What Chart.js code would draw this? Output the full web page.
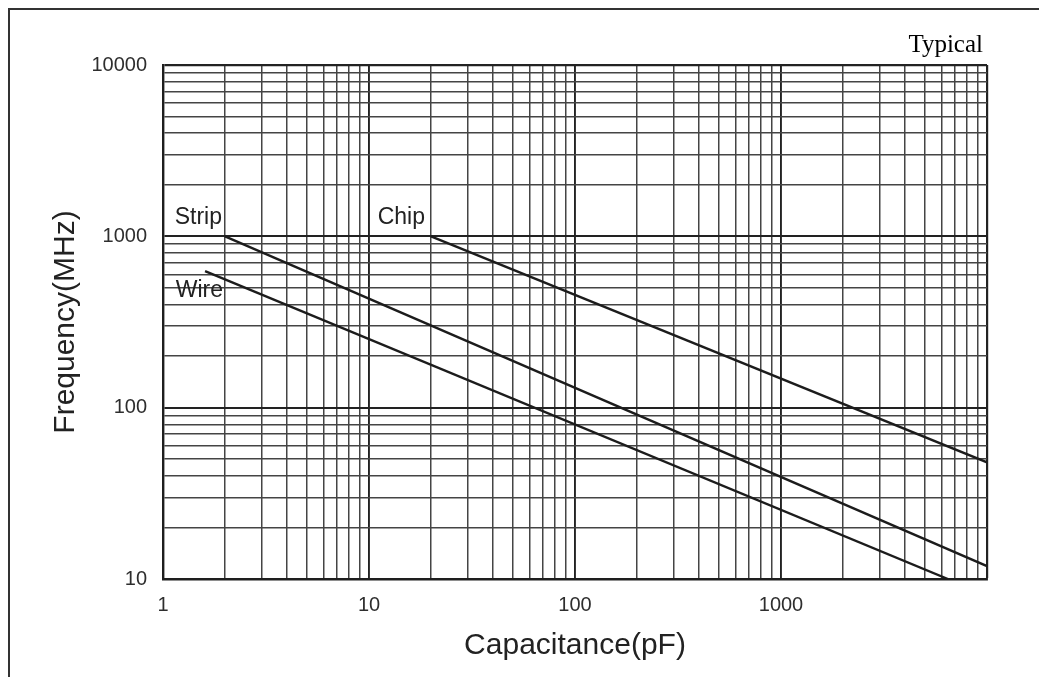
<!DOCTYPE html>
<html><head><meta charset="utf-8">
<script src="https://cdn.jsdelivr.net/npm/chart.js@4"></script>
<style>html,body{margin:0;padding:0;background:#fff;} canvas{display:block;}</style>
</head><body>
<canvas id="c" width="1039" height="677"></canvas>
<script>
// ---- data ----
const xMajors = [1, 10, 100, 1000, 10000];
const xLabels = ['1', '10', '100', '1000', ''];
const yMajors = [10, 100, 1000, 10000];
const yLabels = ['10', '100', '1000', '10000'];
const minorSteps = [2, 3, 4, 5, 6, 7, 8, 9];
const seriesNames = ['Strip', 'Wire', 'Chip'];
const stripC = [2, 10000];
const stripF = [1000, 11.9];
const wireC = [1.6, 6460];
const wireF = [627, 10];
const chipC = [20, 10000];
const chipF = [1000, 48];
const cornerNote = 'Typical';
const xTitle = 'Capacitance(pF)';
const yTitle = 'Frequency(MHz)';

// ---- helpers ----
function buildTicks(majors) {
  const out = [];
  majors.forEach((m, i) => {
    out.push({ value: m });
    if (i < majors.length - 1) minorSteps.forEach(s => out.push({ value: m * s }));
  });
  return out;
}
function pts(xs, ys) { return xs.map((x, i) => ({ x: x, y: ys[i] })); }

const SANS = "'Liberation Sans', Arial, Helvetica, sans-serif";
const SERIF = "'Liberation Serif', 'Times New Roman', serif";
const LINE = '#1c1c1c';

function gridColor(majors) {
  return ctx => (ctx.tick && majors.includes(ctx.tick.value)) ? '#222' : '#444';
}
function gridWidth(majors, edge) {
  return ctx => {
    if (!ctx.tick) return 1.5;
    if (ctx.tick.value === edge) return 2.2;
    return majors.includes(ctx.tick.value) ? 1.9 : 1.5;
  };
}

const labelOffsets = [
  { dx: -3, dy: -12 },
  { dx: 18, dy: 26 },
  { dx: -6, dy: -12 }
];

const decorPlugin = {
  id: 'decor',
  afterDraw(chart) {
    const ctx = chart.ctx;
    ctx.save();
    // outer frame (top and left)
    ctx.strokeStyle = '#333';
    ctx.lineWidth = 2;
    ctx.beginPath();
    ctx.moveTo(1039, 9);
    ctx.lineTo(9, 9);
    ctx.lineTo(9, 677);
    ctx.stroke();
    // corner note
    ctx.fillStyle = '#000';
    ctx.font = '25px ' + SERIF;
    ctx.textAlign = 'right';
    ctx.textBaseline = 'alphabetic';
    ctx.fillText(cornerNote, 983, 52);
    // series labels
    ctx.fillStyle = '#222';
    ctx.font = '23px ' + SANS;
    chart.data.datasets.forEach((ds, i) => {
      const p = chart.getDatasetMeta(i).data[0];
      const o = labelOffsets[i];
      ctx.textAlign = 'right';
      ctx.fillText(seriesNames[i], p.x + o.dx, p.y + o.dy);
    });
    ctx.restore();
  }
};

const lineDs = (name, xs, ys) => ({
  label: name,
  data: pts(xs, ys),
  showLine: true,
  borderColor: LINE,
  borderWidth: 2.4,
  pointRadius: 0,
  tension: 0,
  fill: false
});

new Chart(document.getElementById('c'), {
  type: 'scatter',
  data: {
    datasets: [
      lineDs(seriesNames[0], stripC, stripF),
      lineDs(seriesNames[1], wireC, wireF),
      lineDs(seriesNames[2], chipC, chipF)
    ]
  },
  options: {
    responsive: false,
    animation: false,
    devicePixelRatio: 1,
    layout: { padding: { top: 65, right: 52, left: 0, bottom: 0 } },
    plugins: { legend: { display: false }, tooltip: { enabled: false } },
    scales: {
      x: {
        type: 'logarithmic',
        min: 1, max: 10000,
        afterBuildTicks: s => { s.ticks = buildTicks(xMajors); },
        afterFit: s => { s.height = 98; },
        ticks: {
          autoSkip: false, maxRotation: 0, minRotation: 0, padding: 14,
          color: '#2e2e2e', font: { family: SANS, size: 20 },
          callback: v => { const i = xMajors.indexOf(v); return i >= 0 ? xLabels[i] : ''; }
        },
        grid: { drawTicks: false, color: gridColor(xMajors), lineWidth: gridWidth(xMajors, 10000) },
        border: { display: true, color: '#1e1e1e', width: 2.4 },
        title: { display: true, text: xTitle, color: '#222', font: { family: SANS, size: 30 }, padding: { top: 0, bottom: 13 } }
      },
      y: {
        type: 'logarithmic',
        min: 10, max: 10000,
        afterBuildTicks: s => { s.ticks = buildTicks(yMajors); },
        afterFit: s => { s.width = 163; },
        ticks: {
          autoSkip: false, padding: 16,
          color: '#2e2e2e', font: { family: SANS, size: 20 },
          callback: v => { const i = yMajors.indexOf(v); return i >= 0 ? yLabels[i] : ''; }
        },
        grid: { drawTicks: false, color: gridColor(yMajors), lineWidth: gridWidth(yMajors, 10000) },
        border: { display: true, color: '#1e1e1e', width: 2.4 },
        title: { display: true, text: yTitle, color: '#222', font: { family: SANS, size: 30 }, padding: { top: 48, bottom: 0 } }
      }
    }
  },
  plugins: [decorPlugin]
});
</script>
</body></html>
